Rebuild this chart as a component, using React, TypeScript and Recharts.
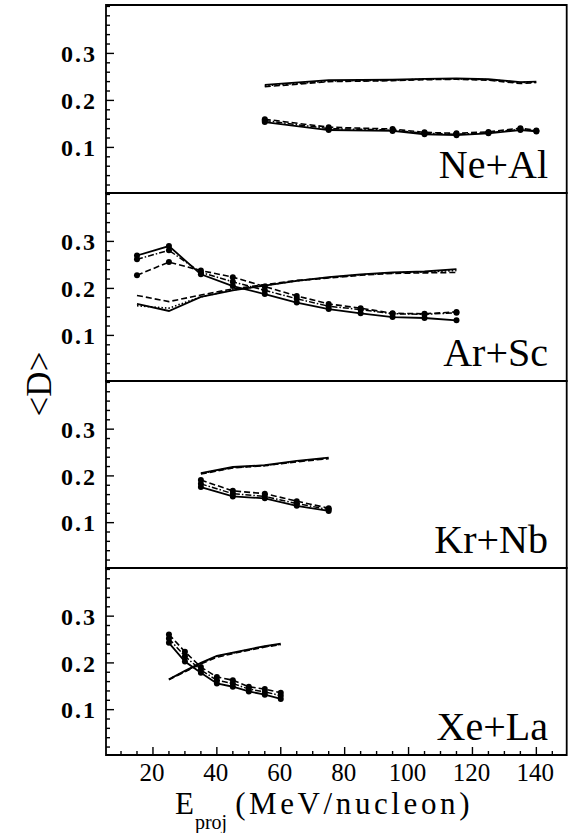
import { Line, LineChart, ReferenceArea, XAxis, YAxis } from "recharts";

const FONT = "'Liberation Serif', 'Times New Roman', Times, serif";

// axis ticks
const X_TICKS = [10, 15, 20, 25, 30, 35, 40, 45, 50, 55, 60, 65, 70, 75, 80, 85, 90, 95, 100, 105, 110, 115, 120, 125, 130, 135, 140, 145];
const X_LABELS = [20, 40, 60, 80, 100, 120, 140];
const Y_TICKS = [0.02, 0.04, 0.06, 0.08, 0.1, 0.12, 0.14, 0.16, 0.18, 0.2, 0.22, 0.24, 0.26, 0.28, 0.3, 0.32, 0.34, 0.36, 0.38, 0.4];
const Y_LABELS = [0.1, 0.2, 0.3];

// Ne+Al
const neE = [55, 75, 95, 105, 115, 125, 135, 140];
const neRiseSolid = [0.233, 0.243, 0.244, 0.246, 0.247, 0.245, 0.239, 0.24];
const neRiseDashed = [0.229, 0.24, 0.242, 0.244, 0.245, 0.243, 0.236, 0.238];
const neRiseDotted = [0.231, 0.241, 0.243, 0.245, 0.246, 0.244, 0.238, 0.239];
const neFallSolid = [0.154, 0.137, 0.135, 0.128, 0.126, 0.13, 0.137, 0.134];
const neFallDashed = [0.16, 0.143, 0.139, 0.132, 0.13, 0.133, 0.141, 0.136];
const neFallDashDot = [0.157, 0.14, 0.137, 0.13, 0.128, 0.131, 0.139, 0.135];

// Ar+Sc
const arE = [15, 25, 35, 45, 55, 65, 75, 85, 95, 105, 115];
const arRiseSolid = [0.167, 0.152, 0.182, 0.196, 0.206, 0.216, 0.224, 0.23, 0.234, 0.236, 0.241];
const arRiseDashed = [0.185, 0.172, 0.186, 0.199, 0.208, 0.217, 0.222, 0.228, 0.232, 0.233, 0.234];
const arRiseDotted = [0.163, 0.158, 0.182, 0.197, 0.206, 0.216, 0.223, 0.229, 0.233, 0.235, 0.238];
const arFallSolid = [0.27, 0.29, 0.23, 0.205, 0.188, 0.17, 0.156, 0.147, 0.139, 0.137, 0.132];
const arFallDashed = [0.228, 0.256, 0.238, 0.224, 0.204, 0.184, 0.167, 0.158, 0.147, 0.146, 0.15];
const arFallDashDot = [0.262, 0.281, 0.234, 0.214, 0.196, 0.178, 0.162, 0.155, 0.146, 0.145, 0.148];

// Kr+Nb
const krE = [35, 45, 55, 65, 75];
const krRiseSolid = [0.206, 0.219, 0.223, 0.232, 0.239];
const krRiseDashed = [0.204, 0.217, 0.222, 0.23, 0.237];
const krRiseDotted = [0.205, 0.218, 0.222, 0.231, 0.238];
const krFallSolid = [0.176, 0.156, 0.152, 0.136, 0.125];
const krFallDashed = [0.191, 0.168, 0.162, 0.146, 0.131];
const krFallDashDot = [0.183, 0.162, 0.156, 0.141, 0.128];

// Xe+La
const xeE = [25, 30, 35, 40, 45, 50, 55, 60];
const xeRiseSolid = [0.165, 0.183, 0.2, 0.215, 0.222, 0.229, 0.236, 0.241];
const xeRiseDashed = [0.164, 0.181, 0.198, 0.212, 0.22, 0.227, 0.234, 0.239];
const xeRiseDotted = [0.165, 0.182, 0.199, 0.214, 0.221, 0.228, 0.235, 0.24];
const xeFallSolid = [0.243, 0.203, 0.179, 0.156, 0.149, 0.139, 0.132, 0.123];
const xeFallDashed = [0.261, 0.224, 0.191, 0.17, 0.163, 0.149, 0.144, 0.136];
const xeFallDashDot = [0.252, 0.214, 0.185, 0.163, 0.156, 0.144, 0.138, 0.13];

const SYSTEMS = ["Ne+Al", "Ar+Sc", "Kr+Nb", "Xe+La"];

function rows(e: number[], s: number[][]) {
  return e.map((x, i) => ({ e: x, rs: s[0][i], rd: s[1][i], rt: s[2][i], fs: s[3][i], fd: s[4][i], fdd: s[5][i] }));
}

const DATA = [
  rows(neE, [neRiseSolid, neRiseDashed, neRiseDotted, neFallSolid, neFallDashed, neFallDashDot]),
  rows(arE, [arRiseSolid, arRiseDashed, arRiseDotted, arFallSolid, arFallDashed, arFallDashDot]),
  rows(krE, [krRiseSolid, krRiseDashed, krRiseDotted, krFallSolid, krFallDashed, krFallDashDot]),
  rows(xeE, [xeRiseSolid, xeRiseDashed, xeRiseDotted, xeFallSolid, xeFallDashed, xeFallDashDot]),
];

const X_MIN = 5.3;
const X_MAX = 149.5;
const Y_MIN = 0.003;
const Y_MAX = 0.403;

const TOPS = [5, 193, 381, 568];
const HEIGHTS = [188, 188, 187, 187];
const PAD = 3;

function XTick(props: any) {
  const { x, y, payload, showLabels } = props;
  const v = payload.value;
  const major = X_LABELS.includes(v);
  return (
    <g>
      <line x1={x} x2={x} y1={y} y2={y - (major ? 8 : 4)} stroke="#000" strokeWidth={1.4} />
      {showLabels && major && (
        <text x={x - 1} y={y + 26} textAnchor="middle" fontFamily={FONT} fontSize={25} fill="#000">
          {v}
        </text>
      )}
    </g>
  );
}

function YTick(props: any) {
  const { x, y, payload } = props;
  const v = payload.value;
  const major = Y_LABELS.some((l) => Math.abs(l - v) < 1e-6);
  return (
    <g>
      <line x1={x} x2={x + (major ? 8 : 4)} y1={y} y2={y} stroke="#000" strokeWidth={1.4} />
      {major && (
        <text x={x - 9} y={y} dy="0.36em" textAnchor="end" fontFamily={FONT} fontSize={24} fontWeight="bold" letterSpacing={2} fill="#000">
          {v.toFixed(1)}
        </text>
      )}
    </g>
  );
}

const dotStyle = { r: 3, fill: "#000", stroke: "none" };

function Panel({ idx }: { idx: number }) {
  const last = idx === 3;
  const h = HEIGHTS[idx];
  const axisH = last ? 40 : 0;
  return (
    <div style={{ position: "absolute", left: 0, top: TOPS[idx] - PAD }}>
      <LineChart
        width={576}
        height={PAD + h + (last ? axisH : PAD)}
        data={DATA[idx]}
        margin={{ top: PAD, right: 9.3, bottom: last ? 0 : PAD, left: 0 }}
      >
        <XAxis
          dataKey="e"
          type="number"
          domain={[X_MIN, X_MAX]}
          allowDataOverflow
          ticks={X_TICKS}
          interval={0}
          height={axisH}
          axisLine={false}
          tickLine={false}
          tickSize={0}
          tickMargin={0}
          tick={(p: any) => <XTick {...p} showLabels={last} />}
        />
        <YAxis
          type="number"
          domain={[Y_MIN, Y_MAX]}
          allowDataOverflow
          ticks={Y_TICKS}
          interval={0}
          width={106}
          axisLine={false}
          tickLine={false}
          tickSize={0}
          tickMargin={0}
          tick={(p: any) => <YTick {...p} />}
        />
        <ReferenceArea x1={X_MIN} x2={X_MAX} y1={Y_MIN} y2={Y_MAX} fill="none" stroke="#000" strokeWidth={1.8} fillOpacity={0} />
        <Line dataKey="rs" stroke="#000" strokeWidth={1.8} dot={false} isAnimationActive={false} />
        <Line dataKey="rd" stroke="#000" strokeWidth={1.6} strokeDasharray="6 3" dot={false} isAnimationActive={false} />
        <Line dataKey="rt" stroke="#000" strokeWidth={1.6} strokeDasharray="1.5 2" dot={false} isAnimationActive={false} />
        <Line dataKey="fs" stroke="#000" strokeWidth={1.8} dot={dotStyle} isAnimationActive={false} />
        <Line dataKey="fd" stroke="#000" strokeWidth={1.6} strokeDasharray="6 3" dot={dotStyle} isAnimationActive={false} />
        <Line dataKey="fdd" stroke="#000" strokeWidth={1.5} strokeDasharray="6 2 1.5 2" dot={dotStyle} isAnimationActive={false} />
      </LineChart>
    </div>
  );
}

export default function App() {
  return (
    <div style={{ position: "absolute", left: 0, top: 0, width: 576, height: 833, background: "#fff" }}>
      {[0, 1, 2, 3].map((i) => (
        <Panel key={i} idx={i} />
      ))}
      <svg width={576} height={833} style={{ position: "absolute", left: 0, top: 0, pointerEvents: "none" }}>
        {SYSTEMS.map((s, i) => (
          <text key={s} x={548} y={TOPS[i] + HEIGHTS[i] - 15} textAnchor="end" fontFamily={FONT} fontSize={40} fill="#000">
            {s}
          </text>
        ))}
        <text transform="translate(51,384) rotate(-90)" textAnchor="middle" fontFamily={FONT} fontSize={35} fill="#000">
          {"<D>"}
        </text>
        <text x={175} y={814} fontFamily={FONT} fontSize={31} fill="#000">
          E
          <tspan fontSize={20} dy={15} dx={1}>
            proj
          </tspan>
          <tspan dy={-15} dx={8} letterSpacing={3.6}>
            {"(MeV/nucleon)"}
          </tspan>
        </text>
      </svg>
    </div>
  );
}
